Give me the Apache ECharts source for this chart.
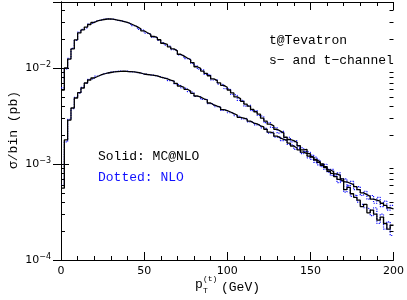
<!DOCTYPE html>
<html><head><meta charset="utf-8">
<script src="https://cdn.jsdelivr.net/npm/echarts@6/dist/echarts.min.js"></script>
<style>html,body{margin:0;padding:0;background:#fff}#c{width:407px;height:300px}</style>
</head><body><div id="c"></div>
<script>
const binWidth = 2;
const xTicks = [0, 50, 100, 150, 200];
const yMinorTicks = [2e-4,3e-4,4e-4,5e-4,6e-4,7e-4,8e-4,9e-4,2e-3,3e-3,4e-3,5e-3,6e-3,7e-3,8e-3,9e-3,2e-2,3e-2,4e-2];

const mcUpper = [
0.0059,0.0100,0.0124,0.0158,0.0196,0.0232,0.0249,0.0267,0.0284,0.0298,
0.0309,0.0316,0.0320,0.0324,0.0325,0.0321,0.0316,0.0311,0.0305,0.0298,
0.0289,0.0279,0.0268,0.0256,0.0244,0.0233,0.0224,0.0213,0.0207,0.0197,
0.0181,0.0176,0.0166,0.0158,0.0151,0.0139,0.0133,0.0127,0.0122,0.0114,
0.0103,0.0099,0.0093,0.0088,0.0083,0.0077,0.0074,0.0070,0.0066,0.0063,
0.0059,0.0055,0.0050,0.0048,0.0045,0.0042,0.0040,0.0037,0.0035,0.0033,
0.0030,0.0028,0.0026,0.0025,0.0023,0.0022,0.0021,0.0019,0.0018,0.00175,
0.00168,0.00155,0.00140,0.00142,0.00128,0.00118,0.00112,0.00104,0.00097,0.00092,
0.00084,0.00080,0.00074,0.00069,0.00066,0.00054,0.00057,0.00049,0.00045,0.00042,
0.00036,0.00038,0.00031,0.00033,0.00030,0.00026,0.00028,0.00024,0.00021,0.00023];

const nloUpper = [
0.0062,0.0098,0.0126,0.0160,0.0194,0.0236,0.0252,0.0264,0.0287,0.0300,
0.0312,0.0314,0.0323,0.0326,0.0322,0.0323,0.0314,0.0309,0.0307,0.0296,
0.0291,0.0276,0.0270,0.0253,0.0247,0.0230,0.0226,0.0210,0.0209,0.0194,
0.0184,0.0173,0.0168,0.0155,0.0153,0.0137,0.0135,0.0125,0.0124,0.0112,
0.0105,0.0097,0.0095,0.0086,0.0085,0.0075,0.0076,0.0068,0.0067,0.0061,
0.0060,0.0053,0.0052,0.0046,0.0046,0.0040,0.0041,0.0036,0.0036,0.0032,
0.0031,0.0027,0.0027,0.0024,0.0024,0.0021,0.0022,0.0018,0.0019,0.0017,
0.00175,0.00150,0.00146,0.00135,0.00132,0.00112,0.00118,0.00098,0.00101,0.00088,
0.00088,0.00076,0.00078,0.00064,0.00070,0.00051,0.00060,0.00046,0.00048,0.00040,
0.00038,0.00035,0.00034,0.00029,0.00035,0.00024,0.00030,0.00021,0.00025,0.00018];

const mcLower = [
0.00056,0.00178,0.00287,0.00383,0.00487,0.00553,0.00619,0.00698,0.00750,0.00787,
0.00815,0.00846,0.00866,0.00887,0.00898,0.00909,0.00918,0.00922,0.00925,0.00920,
0.00918,0.00909,0.00900,0.00887,0.00866,0.00856,0.00850,0.00840,0.00828,0.00805,
0.00787,0.00770,0.00748,0.00732,0.00690,0.00649,0.00630,0.00600,0.00575,0.00545,
0.00511,0.00498,0.00478,0.00464,0.00432,0.00412,0.00400,0.00390,0.00368,0.00360,
0.00348,0.00335,0.00324,0.00306,0.00300,0.00294,0.00280,0.00267,0.00262,0.00250,
0.00243,0.00230,0.00215,0.00210,0.00195,0.00187,0.00180,0.00176,0.00165,0.00154,
0.00147,0.00140,0.00133,0.00128,0.00121,0.00118,0.00110,0.00105,0.00100,0.00094,
0.00087,0.00083,0.00079,0.00076,0.00070,0.00065,0.00063,0.00061,0.00058,0.00054,
0.00050,0.00048,0.00046,0.00043,0.00042,0.00041,0.00039,0.00037,0.00035,0.00034];

const nloLower = [
0.00060,0.00170,0.00292,0.00378,0.00495,0.00548,0.00628,0.00690,0.00760,0.00780,
0.00822,0.00840,0.00875,0.00880,0.00905,0.00912,0.00925,0.00930,0.00918,0.00928,
0.00912,0.00915,0.00895,0.00892,0.00860,0.00862,0.00843,0.00846,0.00820,0.00812,
0.00780,0.00778,0.00740,0.00738,0.00682,0.00656,0.00622,0.00608,0.00568,0.00552,
0.00505,0.00504,0.00472,0.00470,0.00425,0.00418,0.00395,0.00396,0.00362,0.00366,
0.00342,0.00340,0.00318,0.00312,0.00295,0.00299,0.00275,0.00272,0.00256,0.00255,
0.00238,0.00235,0.00210,0.00216,0.00190,0.00192,0.00175,0.00181,0.00160,0.00158,
0.00142,0.00145,0.00128,0.00135,0.00116,0.00124,0.00104,0.00110,0.00094,0.00099,
0.00082,0.00088,0.00075,0.00081,0.00066,0.00070,0.00059,0.00066,0.00054,0.00058,
0.00047,0.00052,0.00043,0.00047,0.00039,0.00045,0.00036,0.00041,0.00033,0.00037];

function toSteps(vals){
  const d = vals.map((v,i)=>[i*binWidth, v]);
  d.push([vals.length*binWidth, vals[vals.length-1]]);
  return d;
}

const chart = echarts.init(document.getElementById('c'), null, {renderer:'canvas'});
const tickFont = {fontFamily:'DejaVu Sans', fontSize:11, color:'#000'};
const mono = '"Liberation Mono"';
const f13 = '13px ' + mono;
const f8 = '8px ' + mono;

function yLabel(v){
  const e = Math.log10(v);
  const r = Math.round(e);
  if (Math.abs(e - r) > 1e-6) return '';
  return '{b|10}{s|\u2212' + Math.abs(r) + '}';
}

const yCommon = {
  type:'log', logBase:10, min:1e-4, max:Math.pow(10,-1.3125),
  axisLine:{show:true, lineStyle:{color:'#000', width:1}},
  axisTick:{show:true, inside:true, length:8, lineStyle:{color:'#000'}},
  minorTick:{show:false},
  splitLine:{show:false}
};
const xCommon = {
  type:'value', min:xTicks[0], max:xTicks[xTicks.length-1], interval:50,
  axisLine:{show:true, onZero:false, lineStyle:{color:'#000', width:1}},
  axisTick:{show:true, inside:true, length:8, lineStyle:{color:'#000'}},
  minorTick:{show:true, splitNumber:5, length:4, lineStyle:{color:'#000'}},
  splitLine:{show:false}
};

chart.setOption({
  animation:false,
  backgroundColor:'#fff',
  grid:{left:61, right:10, top:2, bottom:40, containLabel:false},
  xAxis:[
    Object.assign({}, xCommon, {position:'bottom',
      axisLabel:Object.assign({margin:6}, tickFont)}),
    Object.assign({}, xCommon, {position:'top', axisLabel:{show:false}})
  ],
  yAxis:[
    Object.assign({}, yCommon, {position:'left',
      axisLabel:{margin:10, formatter:yLabel, rich:{
        b:{fontFamily:'DejaVu Sans', fontSize:11, color:'#000'},
        s:{fontFamily:'DejaVu Sans', fontSize:8, color:'#000', padding:[0,0,7,0]}
      }}}),
    Object.assign({}, yCommon, {position:'right', axisLabel:{show:false}})
  ],
  series:[
    {type:'line', name:'NLO upper', data:toSteps(nloUpper), step:'end', showSymbol:false, symbol:'none',
     lineStyle:{color:'#1010ff', width:1.2, type:'dotted'}, z:2},
    {type:'line', name:'NLO lower', data:toSteps(nloLower), step:'end', showSymbol:false, symbol:'none',
     lineStyle:{color:'#1010ff', width:1.2, type:'dotted'}, z:2},
    {type:'line', name:'MC@NLO upper', data:toSteps(mcUpper), step:'end', showSymbol:false, symbol:'none',
     lineStyle:{color:'#000', width:1.3}, z:3},
    {type:'line', name:'MC@NLO lower', data:toSteps(mcLower), step:'end', showSymbol:false, symbol:'none',
     lineStyle:{color:'#000', width:1.3}, z:3},
    {type:'custom', silent:true, z:5, xAxisIndex:0, yAxisIndex:0,
     data:yMinorTicks.map(v=>[0,v]),
     renderItem:function(params, api){
       const y = api.value(1);
       const pL = api.coord([xTicks[0], y]);
       const pR = api.coord([xTicks[xTicks.length-1], y]);
       const yy = Math.round(pL[1]) + 0.5;
       return {type:'group', children:[
         {type:'line', shape:{x1:pL[0], y1:yy, x2:pL[0]+4, y2:yy}, style:{stroke:'#000', lineWidth:1}},
         {type:'line', shape:{x1:pR[0]-4, y1:yy, x2:pR[0], y2:yy}, style:{stroke:'#000', lineWidth:1}}
       ]};
     }}
  ],
  graphic:[
    {type:'text', left:269, top:34, style:{text:'t@Tevatron', font:f13, fill:'#000'}},
    {type:'text', left:269, top:54, style:{text:'s\u2212 and t\u2212channel', font:f13, fill:'#000'}},
    {type:'text', left:98, top:150, style:{text:'Solid: MC@NLO', font:f13, fill:'#000'}},
    {type:'text', left:98, top:171, style:{text:'Dotted: NLO', font:f13, fill:'#1010ff'}},
    {type:'text', x:14, y:130, rotation:Math.PI/2, style:{text:'\u03c3/bin (pb)', font:f13, fill:'#000', align:'center', verticalAlign:'middle'}},
    {type:'text', left:195, top:278, style:{text:'p', font:f13, fill:'#000'}},
    {type:'text', left:203, top:275, style:{text:'(t)', font:f8, fill:'#000'}},
    {type:'text', left:203, top:287, style:{text:'T', font:f8, fill:'#000'}},
    {type:'text', left:221, top:281, style:{text:'(GeV)', font:f13, fill:'#000'}}
  ]
});
</script></body></html>
